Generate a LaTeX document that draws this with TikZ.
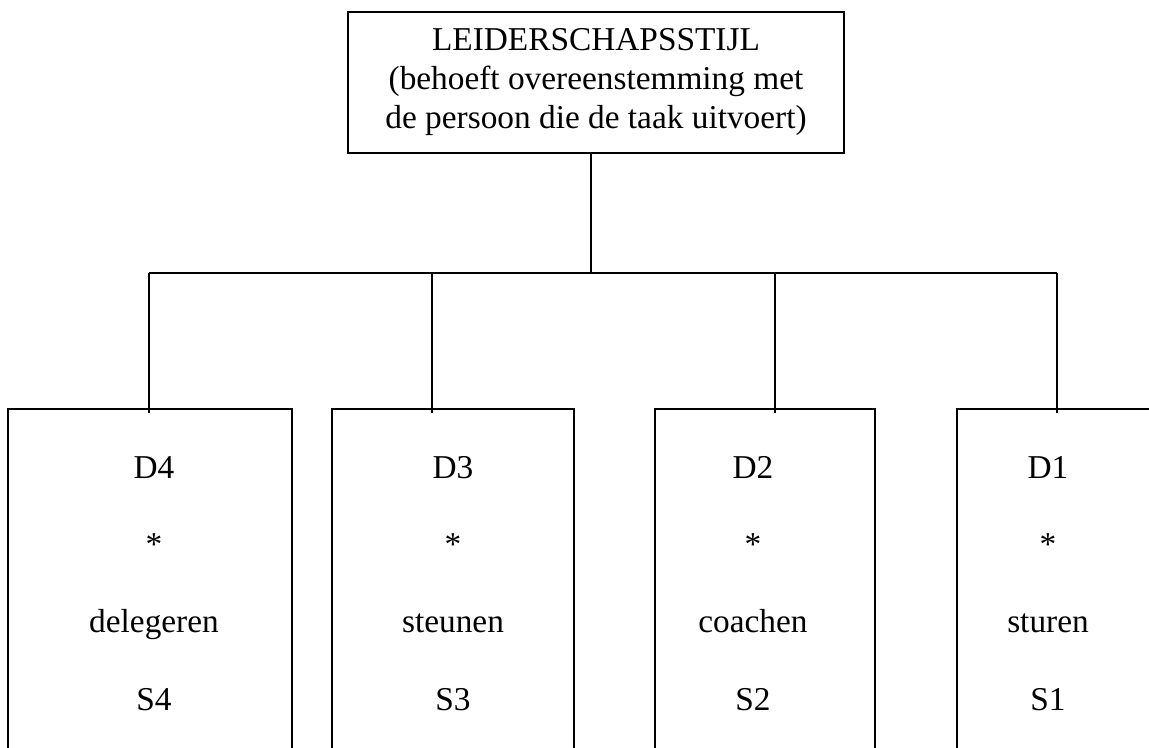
\documentclass[tikz,border=0pt]{standalone}
\usepackage{fontspec}
\setmainfont{Liberation Serif}
\begin{document}
\begin{tikzpicture}[x=0.75pt,y=-0.75pt,
  conn/.style={line width=1.8pt},
  box/.style={draw,line width=1.8pt,rectangle,inner sep=0pt,anchor=north west},
  lbl/.style={font=\fontsize{25}{30}\selectfont,inner sep=0pt,anchor=base},
  title/.style={font=\fontsize{25}{29.5}\selectfont,inner sep=0pt,align=center}]
\useasboundingbox (0,0) rectangle (1149,747);
\clip (0,0) rectangle (1149,747);

% top box with the heading
\node[box,minimum width=372pt,minimum height=105.75pt] (top) at (347,11) {};
\node[title] (toptext) at (596,82)
  {LEIDERSCHAPSSTIJL\\(behoeft overeenstemming met\\de persoon die de taak uitvoert)};

% the four style boxes (running off the bottom edge)
\node[box,minimum width=213pt,minimum height=264pt] (b1) at (7,408) {};
\node[box,minimum width=181.5pt,minimum height=264pt] (b2) at (331,408) {};
\node[box,minimum width=165pt,minimum height=264pt] (b3) at (654,408) {};
\node[box,minimum width=153pt,minimum height=264pt] (b4) at (956,408) {};

% texts inside the boxes
\foreach \n/\x/\d/\w/\s in {1/154/D4/delegeren/S4, 2/453/D3/steunen/S3,
                             3/753/D2/coachen/S2, 4/1048/D1/sturen/S1}{
  \node[lbl] (d\n) at (\x,478) {\d};
  \node[lbl] (a\n) at (\x,555) {*};
  \node[lbl] (w\n) at (\x,632) {\w};
  \node[lbl] (s\n) at (\x,710) {\s};
}

% branching connectors
\coordinate (hub) at (591,273);
\coordinate (e1) at (149,413);
\coordinate (e2) at (432,413);
\coordinate (e3) at (775,413);
\coordinate (e4) at (1057,413);
\draw[conn] (hub |- top.south) -- (hub);
\draw[conn] (hub -| e1) -- (hub -| e4);
\foreach \i in {1,...,4}{
  \draw[conn] (hub -| e\i) -- (e\i);
}
\end{tikzpicture}
\end{document}
